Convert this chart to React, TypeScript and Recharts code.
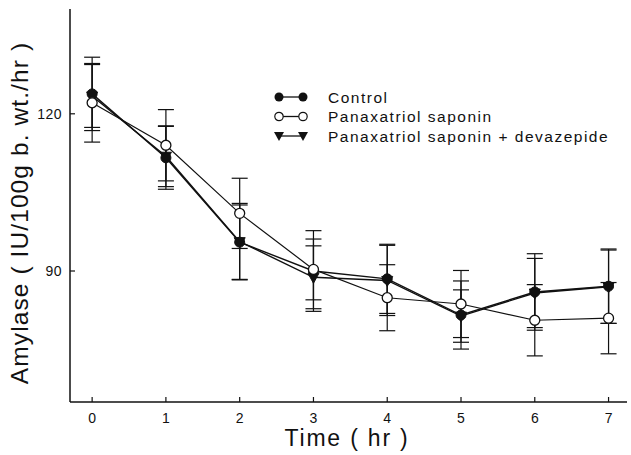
import React from "react"
import { LineChart, Line, XAxis, YAxis, ErrorBar } from "recharts"

const hours = [0, 1, 2, 3, 4, 5, 6, 7]
const control = [123.8, 111.6, 95.5, 90.0, 88.5, 81.6, 86.0, 87.1]
const controlErr = [7.0, 6.0, 7.1, 7.7, 6.6, 6.5, 7.3, 7.1]
const panaxatriol = [122.1, 114.0, 101.0, 90.3, 84.9, 83.7, 80.6, 81.0]
const panaxatriolErr = [7.5, 6.8, 6.7, 5.8, 6.3, 6.4, 6.8, 6.8]
const devazepide = [123.4, 111.9, 95.6, 88.8, 88.2, 81.4, 85.8, 87.0]
const devazepideErr = [6.0, 5.8, 7.3, 6.0, 6.7, 5.0, 6.6, 7.0]

const xTicks = [0, 1, 2, 3, 4, 5, 6, 7]
const yTicks = [90, 120]
const seriesNames = [
  "Control",
  "Panaxatriol saponin",
  "Panaxatriol saponin + devazepide",
]

const font = "'Liberation Sans', Arial, Helvetica, sans-serif"
const ink = "#111"

const data = hours.map((t, i) => ({
  t,
  control: control[i],
  controlErr: controlErr[i],
  pan: panaxatriol[i],
  panErr: panaxatriolErr[i],
  dev: devazepide[i],
  devErr: devazepideErr[i],
}))

function FilledDot(props: any) {
  const { cx, cy, index } = props
  return <circle key={"f" + index} cx={cx} cy={cy} r={5} fill={ink} stroke={ink} />
}

function OpenDot(props: any) {
  const { cx, cy, index } = props
  return (
    <circle key={"o" + index} cx={cx} cy={cy} r={5} fill="#fff" stroke={ink} strokeWidth={1.3} />
  )
}

function TriDot(props: any) {
  const { cx, cy, index } = props
  return (
    <path
      key={"t" + index}
      d={`M${cx - 5.5},${cy - 4} L${cx + 5.5},${cy - 4} L${cx},${cy + 6} Z`}
      fill={ink}
      stroke={ink}
    />
  )
}

function XTick(props: any) {
  const { x, y, payload } = props
  return (
    <g>
      <line x1={x} y1={y} x2={x} y2={y - 5} stroke={ink} strokeWidth={1.2} />
      <text x={x} y={y + 21} textAnchor="middle" fontSize={14} fontFamily={font} fill={ink}>
        {payload.value}
      </text>
    </g>
  )
}

function YTick(props: any) {
  const { x, y, payload } = props
  return (
    <g>
      <line x1={x} y1={y} x2={x + 5} y2={y} stroke={ink} strokeWidth={1.2} />
      <text
        x={x - 8}
        y={y + 5}
        textAnchor="end"
        fontSize={14}
        fontFamily={font}
        fill={ink}
        letterSpacing={0.5}
      >
        {payload.value}
      </text>
    </g>
  )
}

function LegendBox() {
  const rows = [0, 1, 2]
  return (
    <svg width={360} height={64}>
      {rows.map((i) => {
        const y = 11 + i * 19.5
        const a = 6
        const b = 30
        let m1, m2
        if (i === 0) {
          m1 = <circle cx={a} cy={y} r={4.5} fill={ink} />
          m2 = <circle cx={b} cy={y} r={4.5} fill={ink} />
        } else if (i === 1) {
          m1 = <circle cx={a} cy={y} r={4.2} fill="#fff" stroke={ink} strokeWidth={1.2} />
          m2 = <circle cx={b} cy={y} r={4.2} fill="#fff" stroke={ink} strokeWidth={1.2} />
        } else {
          m1 = <path d={`M${a - 5},${y - 4} L${a + 5},${y - 4} L${a},${y + 5} Z`} fill={ink} />
          m2 = <path d={`M${b - 5},${y - 4} L${b + 5},${y - 4} L${b},${y + 5} Z`} fill={ink} />
        }
        return (
          <g key={i}>
            <line x1={a} y1={y} x2={b} y2={y} stroke={ink} strokeWidth={1.3} />
            {m1}
            {m2}
            <text
              x={55}
              y={y + 5.5}
              fontSize={15.5}
              fontFamily={font}
              fill={ink}
              letterSpacing={1.5}
            >
              {seriesNames[i]}
            </text>
          </g>
        )
      })}
    </svg>
  )
}

export default function App() {
  return (
    <div style={{ position: "absolute", left: 0, top: 0, width: 631, height: 455, background: "#fff" }}>
      <LineChart
        width={631}
        height={455}
        data={data}
        margin={{ top: 9, right: 4, left: 0, bottom: 0 }}
      >
        <XAxis
          dataKey="t"
          type="number"
          domain={[-0.3, 7.25]}
          ticks={xTicks}
          height={53}
          tickSize={0}
          tickMargin={0}
          tickLine={false}
          axisLine={{ stroke: ink, strokeWidth: 1.5 }}
          tick={<XTick />}
          allowDataOverflow
        />
        <YAxis
          type="number"
          domain={[65, 140]}
          ticks={yTicks}
          width={70}
          tickSize={0}
          tickMargin={0}
          tickLine={false}
          axisLine={{ stroke: ink, strokeWidth: 1.5 }}
          tick={<YTick />}
          allowDataOverflow
        />
        <Line
          dataKey="dev"
          stroke={ink}
          strokeWidth={1.4}
          dot={<TriDot />}
          isAnimationActive={false}
        >
          <ErrorBar dataKey="devErr" direction="y" width={8} stroke={ink} strokeWidth={1.2} />
        </Line>
        <Line
          dataKey="control"
          stroke={ink}
          strokeWidth={1.4}
          dot={<FilledDot />}
          isAnimationActive={false}
        >
          <ErrorBar dataKey="controlErr" direction="y" width={8} stroke={ink} strokeWidth={1.2} />
        </Line>
        <Line
          dataKey="pan"
          stroke={ink}
          strokeWidth={1.2}
          dot={<OpenDot />}
          isAnimationActive={false}
        >
          <ErrorBar dataKey="panErr" direction="y" width={8} stroke={ink} strokeWidth={1.2} />
        </Line>
        <text
          x={347}
          y={446}
          textAnchor="middle"
          fontSize={23}
          fontFamily={font}
          fill={ink}
          letterSpacing={1.8}
        >
          Time ( hr )
        </text>
        <text
          x={28}
          y={213}
          textAnchor="middle"
          fontSize={24.5}
          fontFamily={font}
          fill={ink}
          letterSpacing={1.1}
          transform="rotate(-90 28 213)"
        >
          Amylase ( IU/100g b. wt./hr )
        </text>
      </LineChart>
      <div style={{ position: "absolute", left: 273, top: 86 }}>
        <LegendBox />
      </div>
    </div>
  )
}
